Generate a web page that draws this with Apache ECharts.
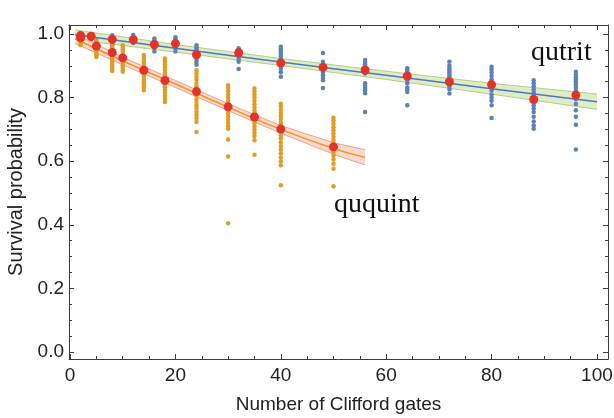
<!DOCTYPE html>
<html>
<head>
<meta charset="utf-8">
<script src="https://cdn.jsdelivr.net/npm/echarts@6/dist/echarts.min.js"></script>
<style>
  html, body { margin: 0; padding: 0; background: #fff; }
  #chart { width: 614px; height: 418px; }
</style>
</head>
<body>
<div id="chart"></div>
<script>
// qutrit: sequence lengths, individual runs, averages
var qutritX = [2, 4, 8, 12, 16, 20, 24, 32, 40, 48, 56, 64, 72, 80, 88, 96];
var qutritRuns = [
  [1.0, 0.997, 0.994, 0.99, 0.986, 0.982],
  [1.0, 0.996, 0.992, 0.988, 0.984],
  [0.996, 0.99, 0.985, 0.98, 0.975, 0.97, 0.965],
  [0.997, 0.992, 0.987, 0.982, 0.977, 0.972],
  [0.986, 0.98, 0.975, 0.97, 0.965, 0.96, 0.955, 0.945],
  [0.99, 0.985, 0.978, 0.972, 0.966, 0.96, 0.955, 0.945],
  [0.965, 0.958, 0.952, 0.946, 0.94, 0.934, 0.928, 0.92, 0.912, 0.903],
  [0.955, 0.95, 0.945, 0.94, 0.934, 0.928, 0.92, 0.913, 0.89],
  [0.96, 0.952, 0.945, 0.938, 0.93, 0.922, 0.915, 0.908, 0.9, 0.89, 0.88, 0.866],
  [0.94, 0.913, 0.905, 0.898, 0.892, 0.885, 0.878, 0.87, 0.862, 0.855, 0.83],
  [0.918, 0.912, 0.905, 0.898, 0.89, 0.882, 0.876, 0.845, 0.838, 0.83, 0.822, 0.814, 0.755],
  [0.892, 0.886, 0.88, 0.874, 0.868, 0.862, 0.855, 0.845, 0.832, 0.825, 0.818, 0.776],
  [0.913, 0.9, 0.892, 0.885, 0.878, 0.872, 0.866, 0.86, 0.854, 0.848, 0.842, 0.835, 0.826, 0.813],
  [0.897, 0.888, 0.878, 0.868, 0.858, 0.848, 0.84, 0.832, 0.822, 0.81, 0.8, 0.79, 0.776, 0.736],
  [0.855, 0.845, 0.836, 0.826, 0.816, 0.806, 0.796, 0.786, 0.776, 0.766, 0.755, 0.74, 0.725, 0.712, 0.702],
  [0.881, 0.872, 0.864, 0.856, 0.848, 0.84, 0.83, 0.82, 0.81, 0.795, 0.78, 0.76, 0.74, 0.715, 0.637]
];
var qutritMean = [0.995, 0.993, 0.983, 0.982, 0.967, 0.970, 0.935, 0.941, 0.909, 0.895, 0.887, 0.868, 0.850, 0.841, 0.794, 0.808];

// ququint
var ququintX = [2, 5, 8, 10, 14, 18, 24, 30, 35, 40, 50];
var ququintRuns = [
  [1.0, 0.995, 0.99, 0.985, 0.98, 0.975, 0.97, 0.965],
  [0.981, 0.975, 0.97, 0.966, 0.96, 0.955, 0.95, 0.944, 0.938, 0.933, 0.928],
  [0.965, 0.958, 0.952, 0.947, 0.94, 0.934, 0.929, 0.922, 0.916, 0.91, 0.903, 0.896, 0.89, 0.884],
  [0.965, 0.958, 0.951, 0.945, 0.937, 0.93, 0.924, 0.916, 0.909, 0.902, 0.895, 0.888, 0.881],
  [0.934, 0.926, 0.918, 0.91, 0.903, 0.895, 0.888, 0.88, 0.872, 0.865, 0.856, 0.848, 0.84, 0.832, 0.823],
  [0.923, 0.914, 0.905, 0.896, 0.888, 0.878, 0.869, 0.86, 0.851, 0.843, 0.833, 0.824, 0.815, 0.806, 0.796, 0.786],
  [0.886, 0.876, 0.866, 0.857, 0.846, 0.836, 0.826, 0.816, 0.807, 0.796, 0.786, 0.776, 0.767, 0.756, 0.746, 0.736, 0.723, 0.692],
  [0.839, 0.83, 0.82, 0.81, 0.8, 0.79, 0.781, 0.77, 0.76, 0.75, 0.741, 0.73, 0.72, 0.71, 0.702, 0.668, 0.615, 0.405],
  [0.829, 0.819, 0.809, 0.8, 0.789, 0.779, 0.769, 0.759, 0.75, 0.739, 0.729, 0.719, 0.709, 0.699, 0.689, 0.679, 0.666, 0.62],
  [0.781, 0.772, 0.762, 0.752, 0.742, 0.733, 0.722, 0.712, 0.702, 0.692, 0.682, 0.672, 0.66, 0.648, 0.636, 0.624, 0.612, 0.6, 0.587, 0.524],
  [0.737, 0.727, 0.717, 0.707, 0.697, 0.687, 0.677, 0.667, 0.657, 0.647, 0.637, 0.627, 0.617, 0.605, 0.592, 0.576, 0.521]
];
var ququintMean = [0.988, 0.962, 0.942, 0.925, 0.886, 0.854, 0.819, 0.771, 0.739, 0.701, 0.645];

// fitted decay curves and their confidence bands
var qutritFitX = [1, 20, 40, 60, 80, 100];
var qutritFit = [0.998, 0.955, 0.912, 0.870, 0.828, 0.787];
var qutritLo = [0.983, 0.943, 0.901, 0.857, 0.811, 0.763];
var qutritHi = [1.013, 0.967, 0.923, 0.883, 0.845, 0.811];

var ququintFitX = [1, 10, 20, 30, 40, 50, 56];
var ququintFit = [0.985, 0.915, 0.843, 0.770, 0.700, 0.640, 0.612];
var ququintLo = [0.970, 0.903, 0.832, 0.759, 0.688, 0.622, 0.588];
var ququintHi = [1.000, 0.927, 0.854, 0.781, 0.712, 0.658, 0.636];

var xMajor = [0, 20, 40, 60, 80, 100];
var xMinor = [5, 10, 15, 25, 30, 35, 45, 50, 55, 65, 70, 75, 85, 90, 95];
var yMajor = [0, 0.2, 0.4, 0.6, 0.8, 1.0];
var yMinor = [0.05, 0.1, 0.15, 0.25, 0.3, 0.35, 0.45, 0.5, 0.55, 0.65, 0.7, 0.75, 0.85, 0.9, 0.95];

function runsToPoints(xs, runs) {
  var pts = [];
  for (var i = 0; i < xs.length; i++) {
    for (var j = 0; j < runs[i].length; j++) pts.push([xs[i], runs[i][j]]);
  }
  return pts;
}
function pairs(xs, ys) {
  return xs.map(function (x, i) { return [x, ys[i]]; });
}

var frameColor = '#3c3c3c';
var labelFont = { fontFamily: 'Liberation Sans, Arial, sans-serif', fontSize: 19, color: '#222' };

function xAx(pos, ticks, len, showLine, labels) {
  return {
    type: 'value', position: pos, min: -0.2, max: 102.1,
    axisLine: { show: showLine, onZero: false, lineStyle: { color: frameColor, width: 1 } },
    axisTick: { show: true, inside: true, length: len, customValues: ticks, lineStyle: { color: frameColor } },
    axisLabel: labels ? Object.assign({ customValues: ticks, margin: 7 }, labelFont) : { show: false },
    splitLine: { show: false },
    name: labels ? 'Number of Clifford gates' : '',
    nameLocation: 'middle', nameGap: 36,
    nameTextStyle: { fontFamily: 'Liberation Sans, Arial, sans-serif', fontSize: 19, color: '#222' }
  };
}
function yAx(pos, ticks, len, showLine, labels) {
  return {
    type: 'value', position: pos, min: -0.0221, max: 1.0284,
    axisLine: { show: showLine, onZero: false, lineStyle: { color: frameColor, width: 1 } },
    axisTick: { show: true, inside: true, length: len, customValues: ticks, lineStyle: { color: frameColor } },
    axisLabel: labels ? Object.assign({ customValues: ticks, margin: 5, formatter: function (v) { return v.toFixed(1); } }, labelFont) : { show: false },
    splitLine: { show: false },
    name: labels ? 'Survival probability' : '',
    nameLocation: 'middle', nameGap: 42,
    nameTextStyle: { fontFamily: 'Liberation Sans, Arial, sans-serif', fontSize: 20, color: '#222' }
  };
}

// confidence band as one polygon, drawn through the axes' coord()
function band(xs, lo, hi, edge, fill) {
  return {
    type: 'custom', z: 1, silent: true,
    data: [[xs[0], lo[0]]],
    renderItem: function (params, api) {
      var top = xs.map(function (x, i) { return api.coord([x, hi[i]]); });
      var bot = xs.map(function (x, i) { return api.coord([x, lo[i]]); });
      return {
        type: 'group',
        children: [
          { type: 'polygon', shape: { points: top.concat(bot.slice().reverse()) }, style: { fill: fill } },
          { type: 'polyline', shape: { points: top }, style: { stroke: edge, lineWidth: 1, fill: null } },
          { type: 'polyline', shape: { points: bot }, style: { stroke: edge, lineWidth: 1, fill: null } }
        ]
      };
    }
  };
}

var chart = echarts.init(document.getElementById('chart'), null, { renderer: 'canvas' });

chart.setOption({
  animation: false,
  backgroundColor: '#fff',
  grid: { left: 69, right: 6, top: 25, bottom: 59, containLabel: false, outerBoundsMode: 'none' },
  xAxis: [
    xAx('bottom', xMajor, 5, true, true),
    xAx('bottom', xMinor, 3, false, false),
    xAx('top', xMajor, 5, true, false),
    xAx('top', xMinor, 3, false, false)
  ],
  yAxis: [
    yAx('left', yMajor, 5, true, true),
    yAx('left', yMinor, 3, false, false),
    yAx('right', yMajor, 5, true, false),
    yAx('right', yMinor, 3, false, false)
  ],
  series: [
    band(qutritFitX, qutritLo, qutritHi, '#b3cf8a', 'rgba(214,231,186,0.8)'),
    band(ququintFitX, ququintLo, ququintHi, '#f0a18a', 'rgba(249,203,189,0.75)'),
    {
      type: 'scatter', symbolSize: 4.5, z: 2, data: runsToPoints(qutritX, qutritRuns),
      itemStyle: { color: '#5e81b5', opacity: 1 }
    },
    {
      type: 'scatter', symbolSize: 4.5, z: 2, data: runsToPoints(ququintX, ququintRuns),
      itemStyle: { color: '#e19c24', opacity: 1 }
    },
    {
      type: 'line', smooth: true, symbol: 'none', z: 3, data: pairs(qutritFitX, qutritFit),
      lineStyle: { color: '#4f78bd', width: 1.5 }
    },
    {
      type: 'line', smooth: true, symbol: 'none', z: 3, data: pairs(ququintFitX, ququintFit),
      lineStyle: { color: '#e89a23', width: 1.5 }
    },
    {
      type: 'scatter', symbolSize: 9, z: 4, data: pairs(qutritX, qutritMean),
      itemStyle: { color: '#e4312a', opacity: 1 }
    },
    {
      type: 'scatter', symbolSize: 9, z: 4, data: pairs(ququintX, ququintMean),
      itemStyle: { color: '#e4312a', opacity: 1 }
    }
  ],
  graphic: [
    { type: 'text', left: 531, top: 39, z: 10, style: { text: 'qutrit', font: '28px "Liberation Serif", "Times New Roman", serif', fill: '#111' } },
    { type: 'text', left: 334, top: 191, z: 10, style: { text: 'ququint', font: '28px "Liberation Serif", "Times New Roman", serif', fill: '#111' } }
  ]
});
</script>
</body>
</html>
